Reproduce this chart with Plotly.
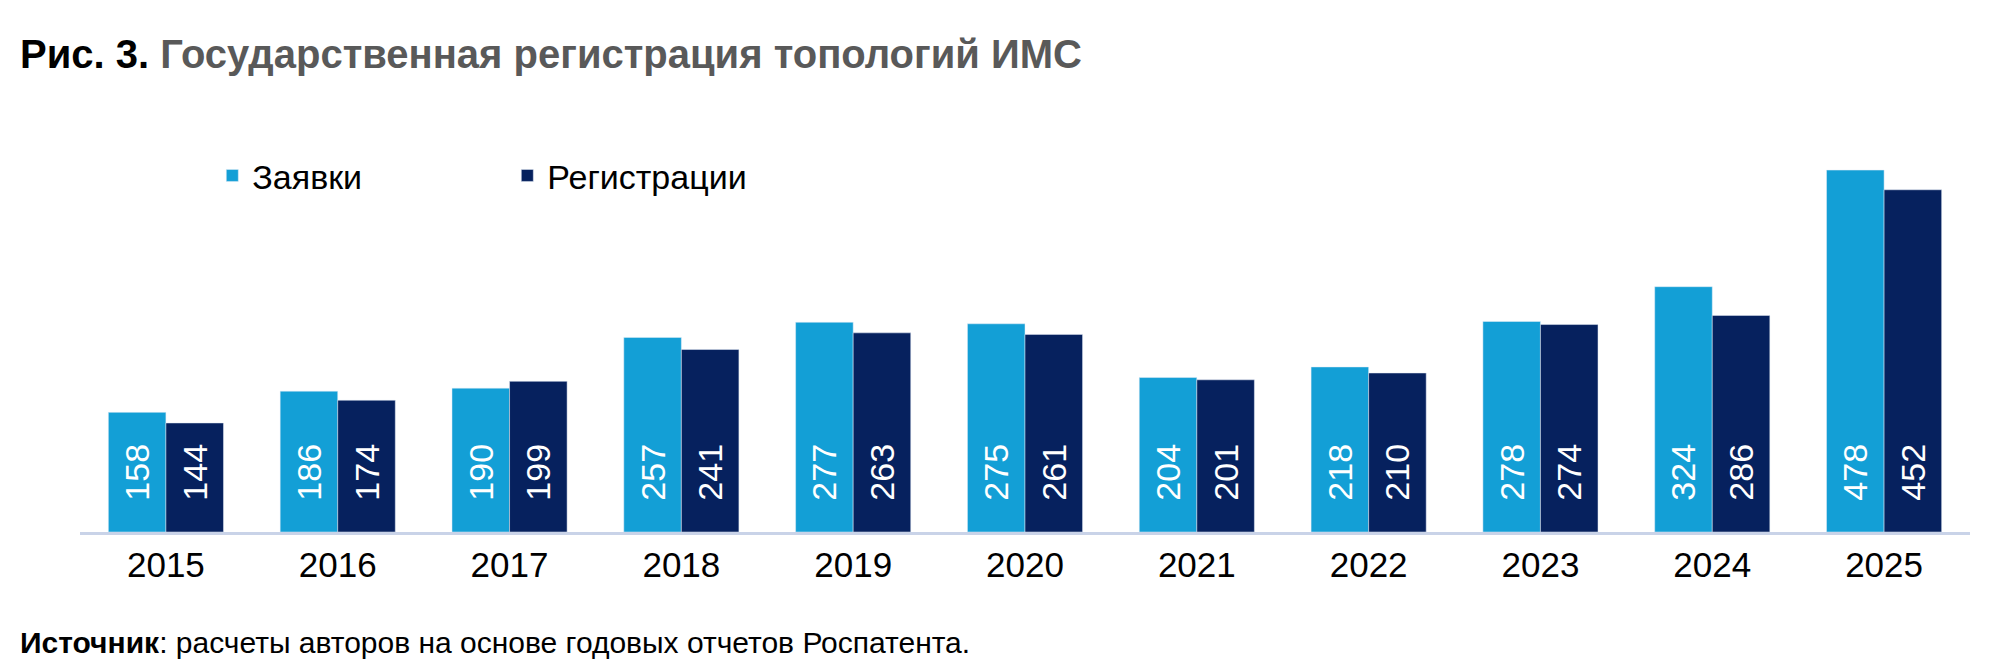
import plotly.graph_objects as go

years = ["2015", "2016", "2017", "2018", "2019", "2020", "2021", "2022", "2023", "2024", "2025"]
applications = [158, 186, 190, 257, 277, 275, 204, 218, 278, 324, 478]
registrations = [144, 174, 199, 241, 263, 261, 201, 210, 274, 286, 452]

font = "Liberation Sans, Arial, sans-serif"
pad = "\u00a0" * 3

fig = go.Figure()
fig.add_trace(go.Bar(x=years, y=applications, name="Заявки", marker_color="#139fd6",
                     text=[pad + str(v) for v in applications], textposition="inside", textangle=-90,
                     insidetextanchor="start", textfont=dict(color="white", size=34)))
fig.add_trace(go.Bar(x=years, y=registrations, name="Регистрации", marker_color="#06215e",
                     text=[pad + str(v) for v in registrations], textposition="inside", textangle=-90,
                     insidetextanchor="start", textfont=dict(color="white", size=34)))

fig.update_layout(
    width=2011, height=670,
    paper_bgcolor="white", plot_bgcolor="white",
    font=dict(family=font, color="black"),
    margin=dict(l=72, r=49, t=100, b=146),
    barmode="group", bargap=0.33, bargroupgap=0,
    uniformtext=dict(minsize=10, mode="show"),
    showlegend=True,
    legend=dict(orientation="h", x=0.07, y=0.84, xanchor="left", yanchor="middle",
                font=dict(size=34), itemwidth=30, entrywidthmode="pixels", entrywidth=250),
    xaxis=dict(showline=True, linecolor="#c9d3e8", linewidth=3, ticks="",
               tickfont=dict(size=35), showgrid=False),
    yaxis=dict(visible=False, range=[0, 560], showgrid=False),
    annotations=[
        dict(text="<b>Рис. 3.</b> <b><span style='color:#595959'>Государственная регистрация топологий ИМС</span></b>",
             xref="paper", yref="paper", x=0, y=1, xanchor="left", yanchor="middle",
             font=dict(size=40), showarrow=False, xshift=-62, yshift=54),
        dict(text="<b>Источник</b>: расчеты авторов на основе годовых отчетов Роспатента.",
             xref="paper", yref="paper", x=0, y=0, xanchor="left", yanchor="middle",
             font=dict(size=30), showarrow=False, xshift=-62, yshift=-110),
    ],
)

fig.write_html("out.html")
